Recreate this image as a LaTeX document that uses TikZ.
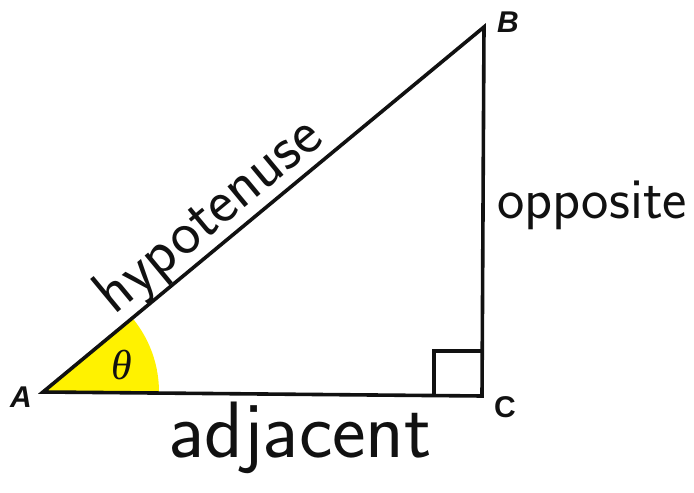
\documentclass[tikz,border=0pt]{standalone}
\usepackage{fontspec}
\newfontfamily\vertexfont{Liberation Sans}
\newfontfamily\greekfont{Liberation Serif}
\usepackage{tikz}
\usetikzlibrary{positioning,calc}
\definecolor{ink}  {HTML}{111111}
\definecolor{sunny}{HTML}{FFF200}
\tikzset{
  % --- lines
  side/.style  = {draw=ink, line width=3.6pt, line join=miter},
  % --- labels
  vtx/.style   = {font=\vertexfont\bfseries\fontsize{30}{30}\selectfont, text=ink, inner sep=0pt},
  hand/.style  = {font=\sffamily\fontsize{62}{62}\selectfont, text=ink, inner sep=0pt},
  ang/.style   = {font=\greekfont\itshape\fontsize{42}{42}\selectfont, text=ink, inner sep=0pt},
}
\begin{document}
\begin{tikzpicture}[x=1pt,y=1pt]
  \useasboundingbox (0,0) rectangle (694,493);

  % corners of the triangle
  \coordinate (A) at (43,101);
  \coordinate (B) at (484,466);
  \coordinate (C) at (482,97);

  % angle at A
  \begin{scope}
    \clip (A) -- (B) -- (C) -- cycle;
    \fill[sunny] (A) circle (116);
  \end{scope}
  \node[ang] (theta) at (122,128) {θ};

  % right angle mark
  \coordinate (sq1) at ($(C)+(-48,0)$);
  \coordinate (sq2) at ($(C)+(-48,45)$);
  \coordinate (sq3) at ($(C)+(0,45)$);
  \draw[side] (sq1) -- (sq2) -- (sq3);

  % sides
  \draw[side] (A) -- (B) -- (C) -- cycle;

  % vertex names
  \node[vtx] (labA) at (21,96)  {\itshape A};
  \node[vtx] (labB) at (508,471) {\itshape B};
  \node[vtx] (labC) at (505,86)  {C};

  % side names
  \path (A) -- (B) node[hand, pos=0.42, sloped, above] (hyp) {hypotenuse};
  \node[hand, font=\sffamily\fontsize{58}{58}\selectfont] (opp) at (592,288) {opposite};
  \node[hand, font=\sffamily\fontsize{80}{80}\selectfont] (adj) at (300,55) {adjacent};
\end{tikzpicture}
\end{document}
